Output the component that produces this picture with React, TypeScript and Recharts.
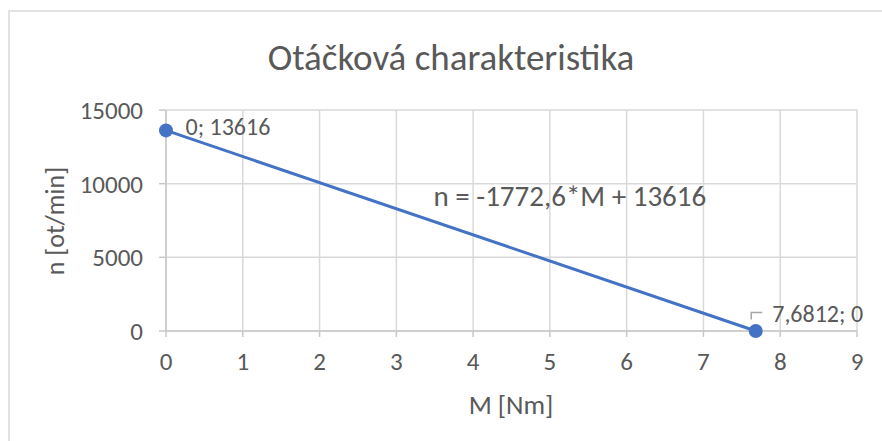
import { ScatterChart, Scatter, XAxis, YAxis, CartesianGrid, ReferenceDot, LabelList } from "recharts";

// measured points of the torque / speed characteristic
const torqueNm = [0, 7.6812];
const speedRpm = [13616, 0];
const xTicks = [0, 1, 2, 3, 4, 5, 6, 7, 8, 9];
const yTicks = [0, 5000, 10000, 15000];

const points = torqueNm.map((m, i) => ({ m, n: speedRpm[i] }));

const slope = (speedRpm[1] - speedRpm[0]) / (torqueNm[1] - torqueNm[0]);
const czNum = (v: number) => String(v).replace(".", ",");
const equation = `n = ${czNum(Math.round(slope * 10) / 10)}*M + ${czNum(speedRpm[0])}`;

const font = "Carlito, 'Open Sans', sans-serif";
const textColor = "#595959";
const blue = "#4472c4";

function PointLabel(props: any) {
  const { x, y, index, value } = props;
  const text = `${czNum(points[index].m)}; ${czNum(value)}`;
  if (index === 0) {
    return (
      <text x={x + 24} y={y + 1} dominantBaseline="central" fontSize={24} fill={textColor} fontFamily={font}>
        {text}
      </text>
    );
  }
  return (
    <g>
      <polyline points={`${x},${y - 7} ${x},${y - 14} ${x + 11},${y - 14}`} fill="none" stroke="#a6a6a6" strokeWidth={1.5} />
      <text x={x + 21} y={y - 13} dominantBaseline="central" fontSize={24} fill={textColor} fontFamily={font}>
        {text}
      </text>
    </g>
  );
}

export default function App() {
  return (
    <div style={{ position: "absolute", left: 0, top: 0, width: 882, height: 441, background: "#fff", overflow: "hidden", fontFamily: font }}>
      <div style={{ position: "absolute", left: 8, top: 10, width: 900, height: 460, border: "2px solid #e2e2e2" }} />
      <div style={{ position: "absolute", left: 451, top: 57, transform: "translate(-50%, -50%)", fontSize: 37, color: textColor, whiteSpace: "nowrap" }}>
        Otáčková charakteristika
      </div>
      <div style={{ position: "absolute", left: 55, top: 221, transform: "translate(-50%, -50%) rotate(-90deg)", fontSize: 26, color: textColor, whiteSpace: "nowrap" }}>
        n [ot/min]
      </div>
      <div style={{ position: "absolute", left: 511, top: 404, transform: "translate(-50%, -50%)", fontSize: 27, color: textColor, whiteSpace: "nowrap" }}>
        M [Nm]
      </div>
      <ScatterChart width={882} height={441} margin={{ top: 110, right: 25, bottom: 70, left: 66 }} style={{ position: "absolute", left: 0, top: 0 }}>
        <CartesianGrid stroke="#d9d9d9" strokeWidth={1.5} />
        <XAxis
          type="number"
          dataKey="m"
          domain={[0, 9]}
          ticks={xTicks}
          height={40}
          stroke="#c8c8c8"
          strokeWidth={1.5}
          tickSize={6}
          tickMargin={15}
          tick={{ fill: textColor, fontSize: 25, fontFamily: font }}
        />
        <YAxis
          type="number"
          dataKey="n"
          domain={[0, 15000]}
          ticks={yTicks}
          width={100}
          stroke="#c8c8c8"
          strokeWidth={1.5}
          tickSize={7}
          tickMargin={16}
          tick={{ fill: textColor, fontSize: 25, fontFamily: font }}
        />
        <ReferenceDot
          x={5.26}
          y={9160}
          r={0}
          ifOverflow="visible"
          label={{ value: equation, fill: textColor, fontSize: 29, fontFamily: font }}
        />
        <Scatter
          data={points}
          fill={blue}
          line={{ stroke: blue, strokeWidth: 3 }}
          lineType="joint"
          shape={(p: any) => <circle cx={p.cx} cy={p.cy} r={7} fill={blue} />}
          isAnimationActive={false}
        >
          <LabelList dataKey="n" content={PointLabel} />
        </Scatter>
      </ScatterChart>
    </div>
  );
}
